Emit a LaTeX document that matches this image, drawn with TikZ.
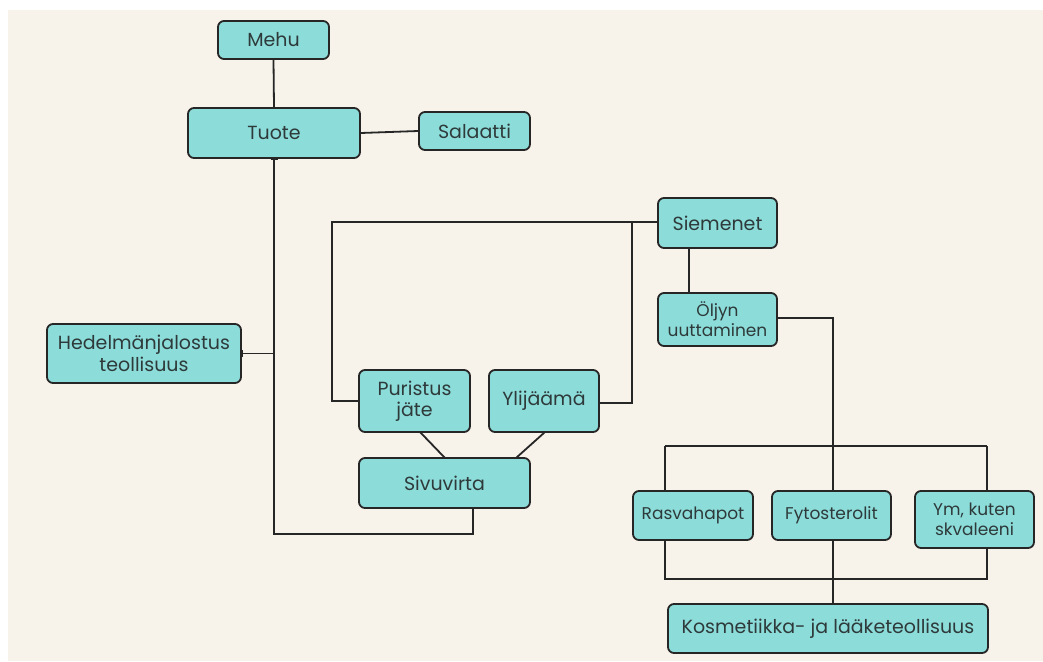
\documentclass[tikz,border=0pt]{standalone}
\usepackage{fontspec}
\setmainfont{Poppins}
\usetikzlibrary{arrows.meta,calc}
\definecolor{bgc}{HTML}{F7F2EA}
\definecolor{boxc}{HTML}{8CDCDA}
\definecolor{linec}{HTML}{262626}
\definecolor{txtc}{HTML}{2E3A3A}
\begin{document}
\begin{tikzpicture}[x=1pt,y=-1pt,
  bx/.style={draw=linec,fill=boxc,line width=1.8pt,rounded corners=6pt,
    align=center,text=txtc,font=\fontsize{19}{21.5}\selectfont,inner sep=0pt},
  sm/.style={font=\fontsize{17}{20}\selectfont},
  ln/.style={draw=linec,line width=1.8pt},
  tk/.style={{Bar[width=7pt,line width=1.2pt]}-}]
\useasboundingbox (0,0) rectangle (1043,661);
\fill[white] (0,0) rectangle (1043,661);
\fill[bgc] (8,10) rectangle (1043,661);
% nodes
\node[bx,minimum width=111pt,minimum height=38pt] (mehu) at (273.5,40) {Mehu};
\node[bx,minimum width=172pt,minimum height=50pt] (tuote) at (274,133) {Tuote};
\node[bx,minimum width=111pt,minimum height=38pt] (sal) at (474.5,131) {Salaatti};
\node[bx,minimum width=194pt,minimum height=59pt] (hed) at (144,353.5) {Hedelmänjalostus\\teollisuus};
\node[bx,minimum width=119pt,minimum height=50pt] (sie) at (717.5,223) {Siemenet};
\node[bx,sm,minimum width=119pt,minimum height=53pt] (olj) at (717.5,319.5) {Öljyn\\uuttaminen};
\node[bx,minimum width=111pt,minimum height=62pt] (pur) at (414.5,401) {Puristus\\jäte};
\node[bx,minimum width=110pt,minimum height=62pt] (yli) at (544,401) {Ylijäämä};
\node[bx,minimum width=171pt,minimum height=50pt] (siv) at (444.5,483) {Sivuvirta};
\node[bx,sm,minimum width=120pt,minimum height=49pt] (ras) at (693,515.5) {Rasvahapot};
\node[bx,sm,minimum width=119pt,minimum height=49pt] (fyt) at (831.5,515.5) {Fytosterolit};
\node[bx,sm,minimum width=119pt,minimum height=57pt] (ym) at (974.5,519.5) {Ym, kuten\\skvaleeni};
\node[bx,minimum width=320pt,minimum height=49pt] (kos) at (828,628.5) {Kosmetiikka- ja lääketeollisuus};
% coordinates
\coordinate (c1) at (274,534);
\coordinate (c2) at (473,534);
\coordinate (j1) at (274,353.5);
\coordinate (lp) at (332,222);
\coordinate (rp) at (632,222);
\coordinate (rq) at (632,403);
\coordinate (ob) at (833,446);
\coordinate (bl) at (665,446);
\coordinate (br) at (987,446);
\coordinate (dl) at (665,579);
\coordinate (dr) at (987,579);
% connectors
\draw[ln] (mehu.south) -- (tuote.north);
\draw[ln] (tuote.east) -- (sal.west);
\draw[ln,tk] (tuote.south) -- (c1) -- (c2) -- (c2 |- siv.south);
\draw[ln,{Bar[width=7pt,line width=1.2pt]}-{Bar[width=7pt,line width=1.2pt]}] (hed.east) -- (j1);
\draw[ln] (pur.west) -| (lp) -- (lp -| sie.west);
\draw[ln] (yli.east |- rq) -- (rq) -- (rp);
\draw[ln] (689,248) coordinate (s1) -- (s1 |- olj.north);
\draw[ln] (olj.east |- 0,318) -| (ob);
\draw[ln] (bl) -- (br);
\draw[ln] (bl) -- (bl |- ras.north);
\draw[ln] (br) -- (br |- ym.north);
\draw[ln] (ob) -- (ob |- fyt.north);
\draw[ln] (bl |- ras.south) -- (dl) -- (dr) -- (dr |- ym.south);
\draw[ln] (fyt.south -| ob) -- (ob |- kos.north);
\draw[ln] (420,432) coordinate (p1) -- (445,458) coordinate (p2);
\draw[ln] (545,432) coordinate (p3) -- (516,458) coordinate (p4);
\end{tikzpicture}
\end{document}
